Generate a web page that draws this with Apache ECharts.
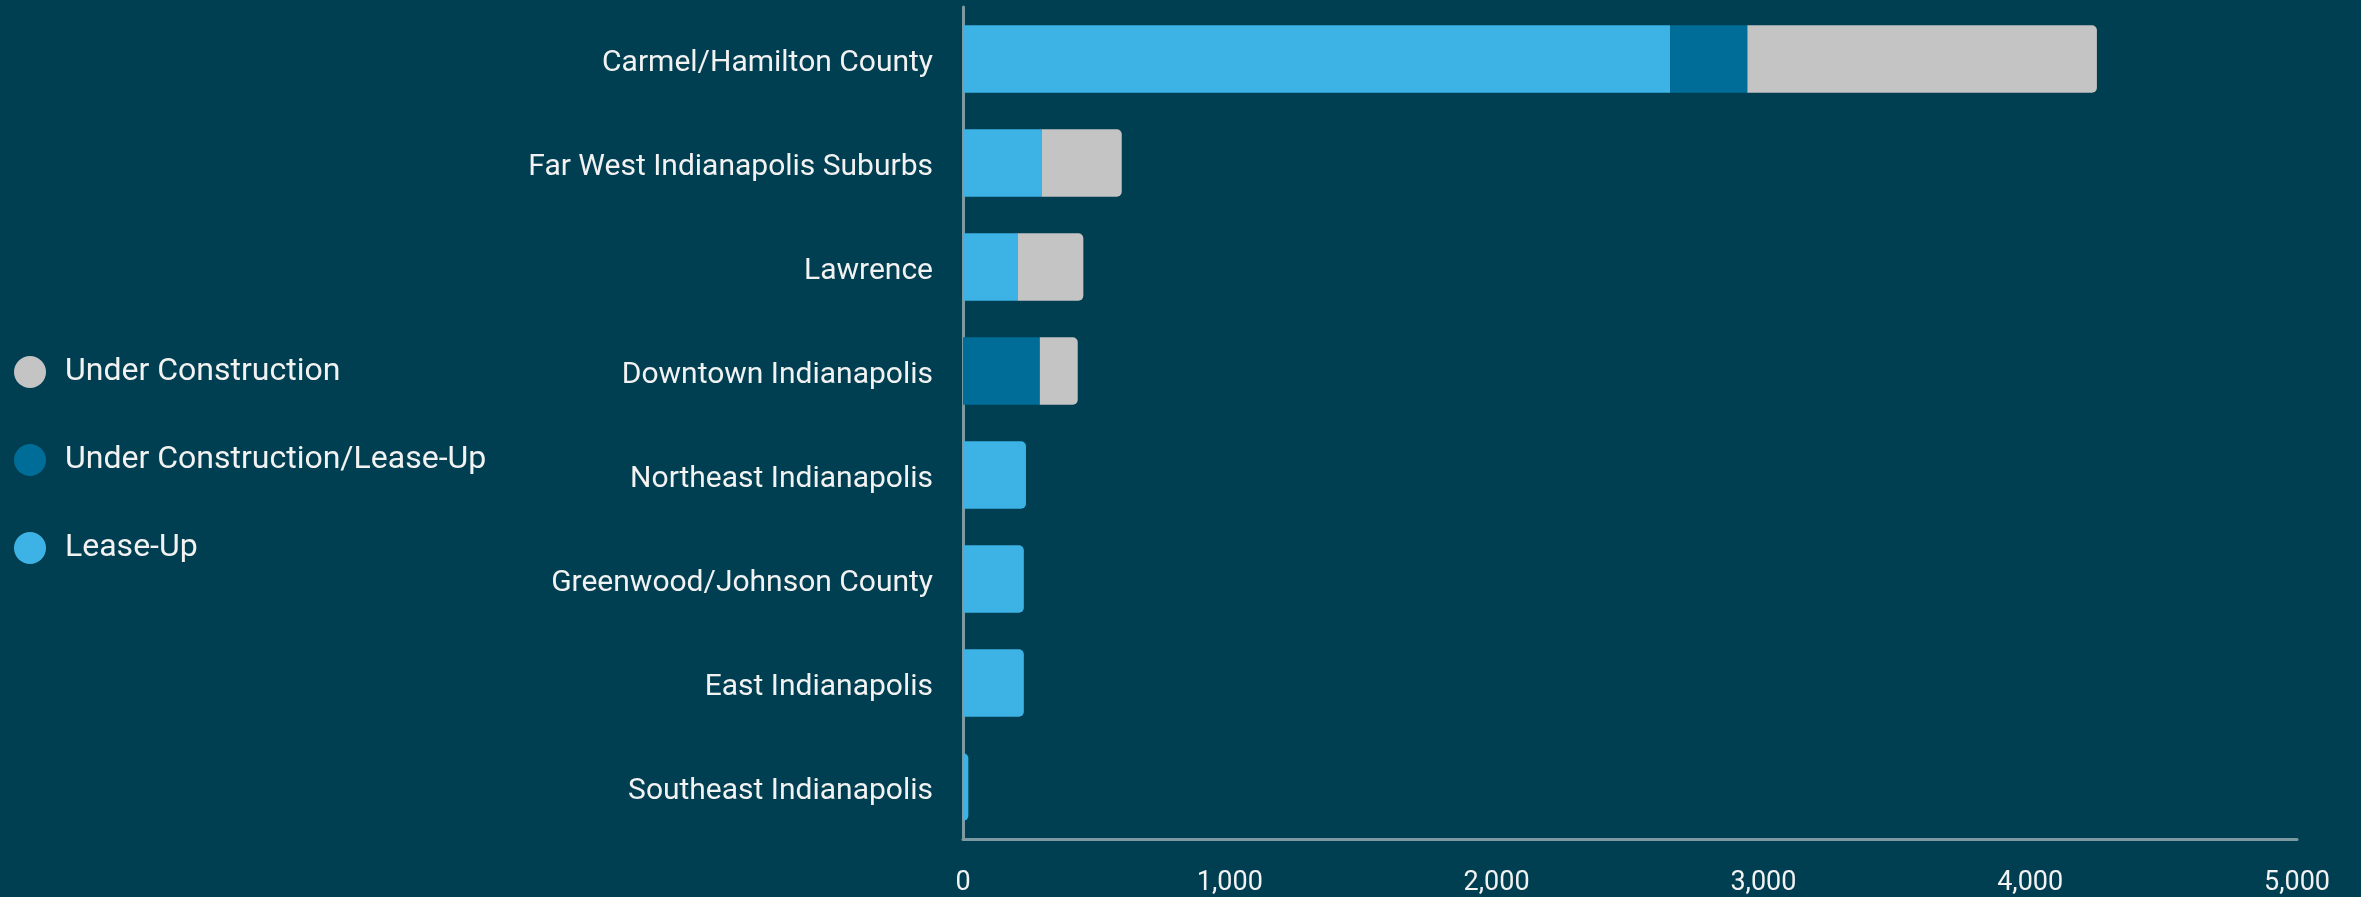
<!DOCTYPE html>
<html>
<head>
<meta charset="utf-8">
<script src="https://cdn.jsdelivr.net/npm/echarts@6/dist/echarts.min.js"></script>
<style>
html,body{margin:0;padding:0;background:#003f51;}
#chart{width:2361px;height:897px;}
</style>
</head>
<body>
<div id="chart"></div>
<script>
const categories = ['Carmel/Hamilton County','Far West Indianapolis Suburbs','Lawrence','Downtown Indianapolis','Northeast Indianapolis','Greenwood/Johnson County','East Indianapolis','Southeast Indianapolis'];
const leaseUp = [2650, 296, 204, 0, 236, 228, 228, 20];
const ucLeaseUp = [290, 0, 0, 288, 0, 0, 0, 0];
const underConstruction = [1310, 299, 247, 142, 0, 0, 0, 0];
const xTicks = [0, 1000, 2000, 3000, 4000, 5000];

const seriesDefs = [
  {name:'Lease-Up', data:leaseUp, color:'#3db3e5'},
  {name:'Under Construction/Lease-Up', data:ucLeaseUp, color:'#006d98'},
  {name:'Under Construction', data:underConstruction, color:'#c4c4c4'}
];
const R = 5;
function lastIdx(i){
  let li = -1;
  seriesDefs.forEach((s,k)=>{ if (s.data[i] > 0) li = k; });
  return li;
}
const series = seriesDefs.map((s,k)=>({
  name:s.name, type:'bar', stack:'total', barCategoryGap:'35%',
  itemStyle:{color:s.color},
  emphasis:{disabled:true},
  data:s.data.map((v,i)=>({value:v, itemStyle:{borderRadius: lastIdx(i)===k ? [0,R,R,0] : 0}}))
}));

const font = 'Roboto, "Noto Sans", sans-serif';
const chart = echarts.init(document.getElementById('chart'));
chart.setOption({
  backgroundColor:'#003f51',
  animation:false,
  legend:{
    orient:'vertical', left:14, top:356, padding:0,
    icon:'circle', itemWidth:32, itemHeight:32, itemGap:56,
    data:['Under Construction','Under Construction/Lease-Up','Lease-Up'],
    textStyle:{color:'#f2f2f2', fontSize:32, fontFamily:font, padding:[0,0,0,14]}
  },
  grid:{left:963, right:64, top:7, bottom:57, containLabel:false},
  xAxis:{
    type:'value', min:xTicks[0], max:xTicks[xTicks.length-1], interval:1000,
    axisLine:{show:true, lineStyle:{color:'#7d99a2', width:3}},
    axisTick:{show:false}, splitLine:{show:false},
    axisLabel:{color:'#f2f2f2', fontSize:27, fontFamily:font, margin:31,
      formatter:v=>v.toLocaleString('en-US')}
  },
  yAxis:{
    type:'category', data:categories, inverse:true,
    axisLine:{show:true, lineStyle:{color:'#7d99a2', width:3}},
    axisTick:{show:false}, splitLine:{show:false},
    axisLabel:{color:'#f2f2f2', fontSize:30, fontFamily:font, margin:30,
      formatter:v=>'{a|'+v+'}',
      rich:{a:{color:'#f2f2f2', fontSize:30, fontFamily:font, padding:[8,0,0,0]}}}
  },
  series:series
});
</script>
</body>
</html>
